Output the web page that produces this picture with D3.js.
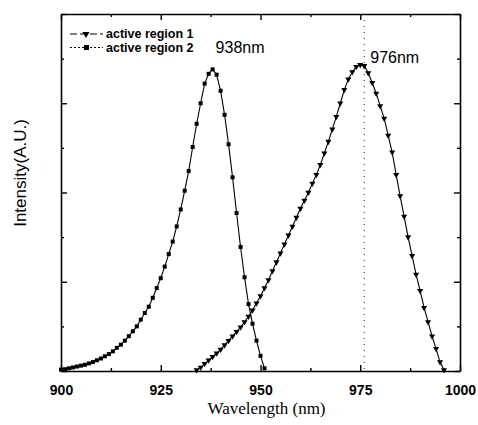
<!DOCTYPE html>
<html>
<head>
<meta charset="utf-8">
<script src="https://cdn.jsdelivr.net/npm/d3@7"></script>
<style>
  html, body { margin: 0; padding: 0; background: #fff; }
  svg { display: block; }
</style>
</head>
<body>
<div id="chart"></div>
<script>
// Photoluminescence spectra of the two active regions (1 nm steps)
const wavelength1 = d3.range(934, 997);   // active region 1: 934–996 nm
const intensity1 = [
  0.01, 0.04, 0.08, 0.12, 0.16, 0.20, 0.24, 0.29, 0.34, 0.39,
  0.44, 0.49, 0.55, 0.61, 0.68, 0.76, 0.84, 0.93, 1.02, 1.12,
  1.22, 1.32, 1.42, 1.52, 1.62, 1.72, 1.82, 1.91, 2.00, 2.10,
  2.20, 2.31, 2.44, 2.57, 2.71, 2.85, 3.00, 3.15, 3.27, 3.35,
  3.41, 3.43, 3.42, 3.34, 3.23, 3.11, 2.97, 2.83, 2.64, 2.45,
  2.20, 1.96, 1.73, 1.50, 1.29, 1.08, 0.90, 0.71, 0.55, 0.39,
  0.25, 0.10, 0.01
];
const wavelength2 = d3.range(900, 952);   // active region 2: 900–951 nm
const intensity2 = [
  0.015, 0.02, 0.03, 0.04, 0.05, 0.06, 0.07, 0.085, 0.10, 0.12,
  0.14, 0.165, 0.19, 0.22, 0.26, 0.295, 0.34, 0.39, 0.445, 0.50,
  0.575, 0.65, 0.72, 0.82, 0.93, 1.04, 1.17, 1.31, 1.45, 1.62,
  1.81, 2.02, 2.24, 2.51, 2.77, 3.00, 3.22, 3.33, 3.38, 3.32,
  3.14, 2.87, 2.54, 2.17, 1.77, 1.39, 1.05, 0.75, 0.53, 0.34,
  0.17, 0.03
];
const seriesNames = ["active region 1", "active region 2"];
const peakLabels = ["976nm", "938nm"];
const peakWavelengths = [976, 938];
const xTicks = [900, 925, 950, 975, 1000];
const xMinorTicks = [912.5, 937.5, 962.5, 987.5];
const yTicks = [0, 1, 2, 3, 4];
const yMinorTicks = [0.5, 1.5, 2.5, 3.5];

const W = 478, H = 425;
const margin = { left: 61, right: 18, top: 14, bottom: 54 };
const iw = W - margin.left - margin.right;
const ih = H - margin.top - margin.bottom;

const svg = d3.select("#chart").append("svg")
  .attr("width", W).attr("height", H);
const g = svg.append("g").attr("transform", `translate(${margin.left},${margin.top})`);

const x = d3.scaleLinear().domain([900, 1000]).range([0, iw]);
const y = d3.scaleLinear().domain([0, 4]).range([ih, 0]);

// Frame axes with inward ticks on all four sides
function styleAxis(sel) {
  sel.selectAll("path.domain").attr("stroke", "#000").attr("stroke-width", 1.6);
  sel.selectAll(".tick line").attr("stroke", "#000").attr("stroke-width", 1.4);
}
const axes = [
  { ax: d3.axisBottom(x), t: `translate(0,${ih})`, major: xTicks, label: true },
  { ax: d3.axisTop(x), t: `translate(0,0)`, major: xTicks, label: false },
  { ax: d3.axisLeft(y), t: `translate(0,0)`, major: yTicks, label: false },
  { ax: d3.axisRight(y), t: `translate(${iw},0)`, major: yTicks, label: false }
];
axes.forEach(a => {
  const major = g.append("g").attr("transform", a.t)
    .call(a.ax.tickValues(a.major).tickSizeInner(-6).tickSizeOuter(0)
      .tickPadding(14)
      .tickFormat(a.label ? d3.format("d") : () => ""));
  styleAxis(major);
  major.selectAll("text")
    .attr("font-family", "Liberation Sans, Arial, sans-serif")
    .attr("font-size", 14).attr("font-weight", "bold").attr("fill", "#000");
});
// minor ticks
const minorDefs = [
  { ax: d3.axisBottom(x), t: `translate(0,${ih})`, v: xMinorTicks },
  { ax: d3.axisTop(x), t: `translate(0,0)`, v: xMinorTicks },
  { ax: d3.axisLeft(y), t: `translate(0,0)`, v: yMinorTicks },
  { ax: d3.axisRight(y), t: `translate(${iw},0)`, v: yMinorTicks }
];
minorDefs.forEach(m => {
  const s = g.append("g").attr("transform", m.t)
    .call(m.ax.tickValues(m.v).tickSizeInner(-3).tickSizeOuter(0).tickFormat(() => ""));
  s.select("path.domain").remove();
  styleAxis(s);
});

// Dotted marker line at the 976 nm peak
g.append("line")
  .attr("x1", x(peakWavelengths[0])).attr("x2", x(peakWavelengths[0]))
  .attr("y1", 0).attr("y2", ih)
  .attr("stroke", "#222").attr("stroke-width", 1)
  .attr("stroke-dasharray", "1,5");

// Series
const data1 = wavelength1.map((w, i) => [w, intensity1[i]]);
const data2 = wavelength2.map((w, i) => [w, intensity2[i]]);
const line = d3.line().x(d => x(d[0])).y(d => y(d[1]));

g.append("path").datum(data1).attr("d", line)
  .attr("fill", "none").attr("stroke", "#000").attr("stroke-width", 1.1);
g.append("path").datum(data2).attr("d", line)
  .attr("fill", "none").attr("stroke", "#000").attr("stroke-width", 1.1);

const tri = d3.symbol().type(d3.symbolTriangle).size(16);
g.append("g").selectAll("path").data(data1).join("path")
  .attr("d", tri)
  .attr("transform", d => `translate(${x(d[0])},${y(d[1])}) rotate(180)`)
  .attr("fill", "#000");
g.append("g").selectAll("rect").data(data2).join("rect")
  .attr("x", d => x(d[0]) - 2).attr("y", d => y(d[1]) - 2)
  .attr("width", 4).attr("height", 4)
  .attr("fill", "#000");

// Peak annotations
const annFont = "Liberation Sans, Arial, sans-serif";
g.append("text").attr("x", x(peakWavelengths[0]) + 6).attr("y", 49)
  .attr("font-family", annFont).attr("font-size", 16).attr("fill", "#000")
  .text(peakLabels[0]);
g.append("text").attr("x", x(peakWavelengths[1]) + 3).attr("y", 39)
  .attr("font-family", annFont).attr("font-size", 16).attr("fill", "#000")
  .text(peakLabels[1]);

// Legend
const legend = g.append("g").attr("transform", "translate(9,20)");
const rowGap = 13.5;
seriesNames.forEach((name, i) => {
  const row = legend.append("g").attr("transform", `translate(0,${i * rowGap})`);
  row.append("line").attr("x1", 0).attr("x2", 33).attr("y1", 0).attr("y2", 0)
    .attr("stroke", "#000").attr("stroke-width", 1.2)
    .attr("stroke-dasharray", i === 0 ? "7,3" : "2,2");
  if (i === 0) {
    row.append("path").attr("d", d3.symbol().type(d3.symbolTriangle).size(22)())
      .attr("transform", "translate(16,0) rotate(180)").attr("fill", "#000");
  } else {
    row.append("rect").attr("x", 14).attr("y", -2.5).attr("width", 5).attr("height", 5)
      .attr("fill", "#000");
  }
  row.append("text").attr("x", 36).attr("y", 0).attr("dy", "0.35em")
    .attr("font-family", annFont).attr("font-size", 12.5).attr("font-weight", "bold")
    .attr("fill", "#000").text(name);
});

// Axis titles
svg.append("text")
  .attr("x", margin.left + x(951.5)).attr("y", 414)
  .attr("text-anchor", "middle")
  .attr("font-family", "Liberation Serif, Times New Roman, serif")
  .attr("font-size", 17).attr("fill", "#000")
  .text("Wavelength (nm)");
svg.append("text")
  .attr("transform", "translate(26,173) rotate(-90)")
  .attr("text-anchor", "middle")
  .attr("font-family", annFont)
  .attr("font-size", 17).attr("fill", "#000")
  .text("Intensity(A.U.)");
</script>
</body>
</html>
